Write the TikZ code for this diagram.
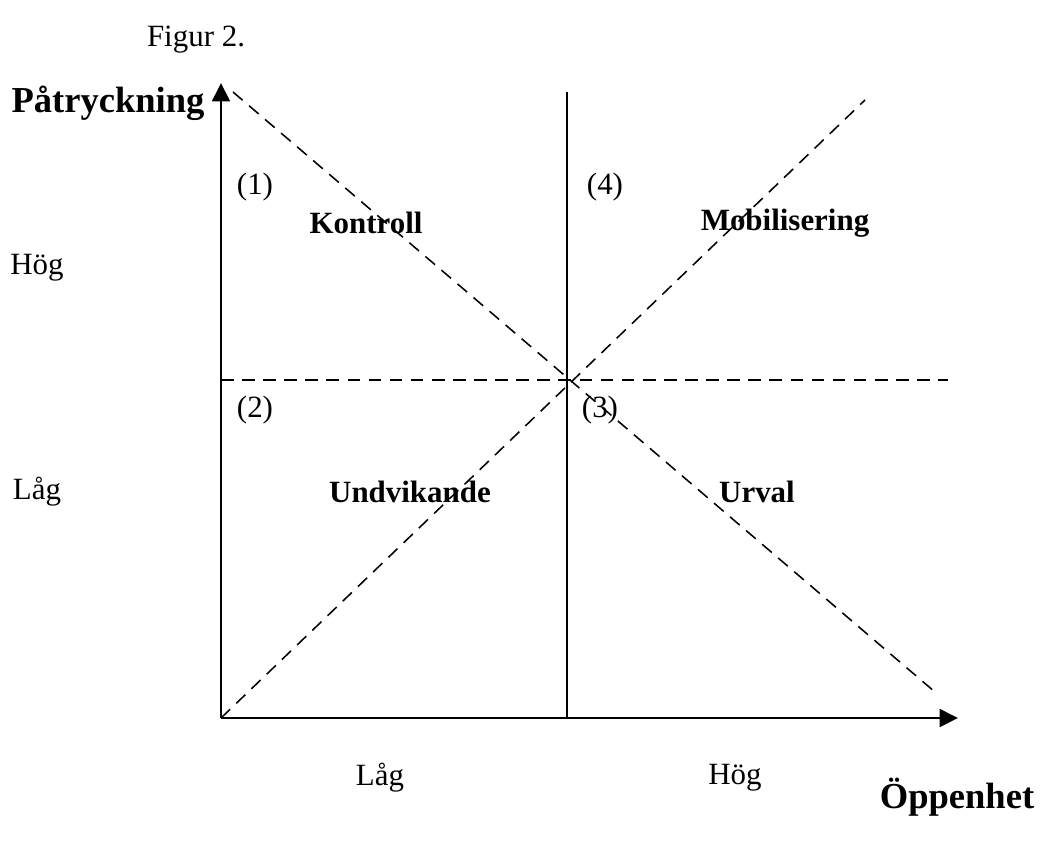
\documentclass[tikz,border=0pt]{standalone}
\usepackage{fontspec}
\setmainfont{Liberation Serif}
\usepackage{tikz}
\usetikzlibrary{arrows.meta}

\tikzset{
	axis/.style={line width=2pt,-{Triangle[length=13pt,width=12.5pt]}},
	split/.style={dashed,line width=1.1pt,dash pattern=on 9pt off 6pt},
	txt/.style={font=\fontsize{22}{26}\selectfont},
	lbl/.style={font=\fontsize{22}{26}\selectfont\bfseries},
	title/.style={font=\fontsize{26}{30}\selectfont\bfseries}
}

\begin{document}
\begin{tikzpicture}[x=0.025cm,y=-0.025cm]
	\useasboundingbox (0,0) rectangle (1044,843);

	% axes
	\coordinate (O) at (221,718);
	\coordinate (ytop) at (221,83);
	\coordinate (xend) at (958,718);
	\draw[axis] (O) -- (ytop);
	\draw[axis] (O) -- (xend);

	% quadrants
	\coordinate (vtop) at (567,92);
	\coordinate (vbot) at (567,718);
	\draw[line width=1.3pt] (vtop) -- (vbot);
	\coordinate (hl) at (221,380);
	\coordinate (hr) at (948,380);
	\draw[split] (hl) -- (hr);
	\coordinate (dA) at (233,92);
	\coordinate (dB) at (935,692);
	\draw[split] (dA) -- (dB);
	\coordinate (dC) at (865,100);
	\draw[split] (O) -- (dC);

	\node[txt] (fig) at (196,40) {Figur 2.};
	\node[title] (ylab) at (108,103) {Påtryckning};
	\node[title] (xlab) at (957,797) {Öppenhet};

	\node[txt] (yhi) at (37,268) {Hög};
	\node[txt] (ylo) at (37,492) {Låg};
	\node[txt] (xlo) at (380,778) {Låg};
	\node[txt] (xhi) at (735,778) {Hög};

	\node[txt] (n1) at (255,187) {(1)};
	\node[txt] (n4) at (605,187) {(4)};
	\node[txt] (n2) at (255,410) {(2)};
	\node[txt] (n3) at (600,410) {(3)};

	\node[lbl] (q1) at (366,223) {Kontroll};
	\node[lbl] (q4) at (785,223) {Mobilisering};
	\node[lbl] (q2) at (410,492) {Undvikande};
	\node[lbl] (q3) at (757,492) {Urval};
\end{tikzpicture}
\end{document}
